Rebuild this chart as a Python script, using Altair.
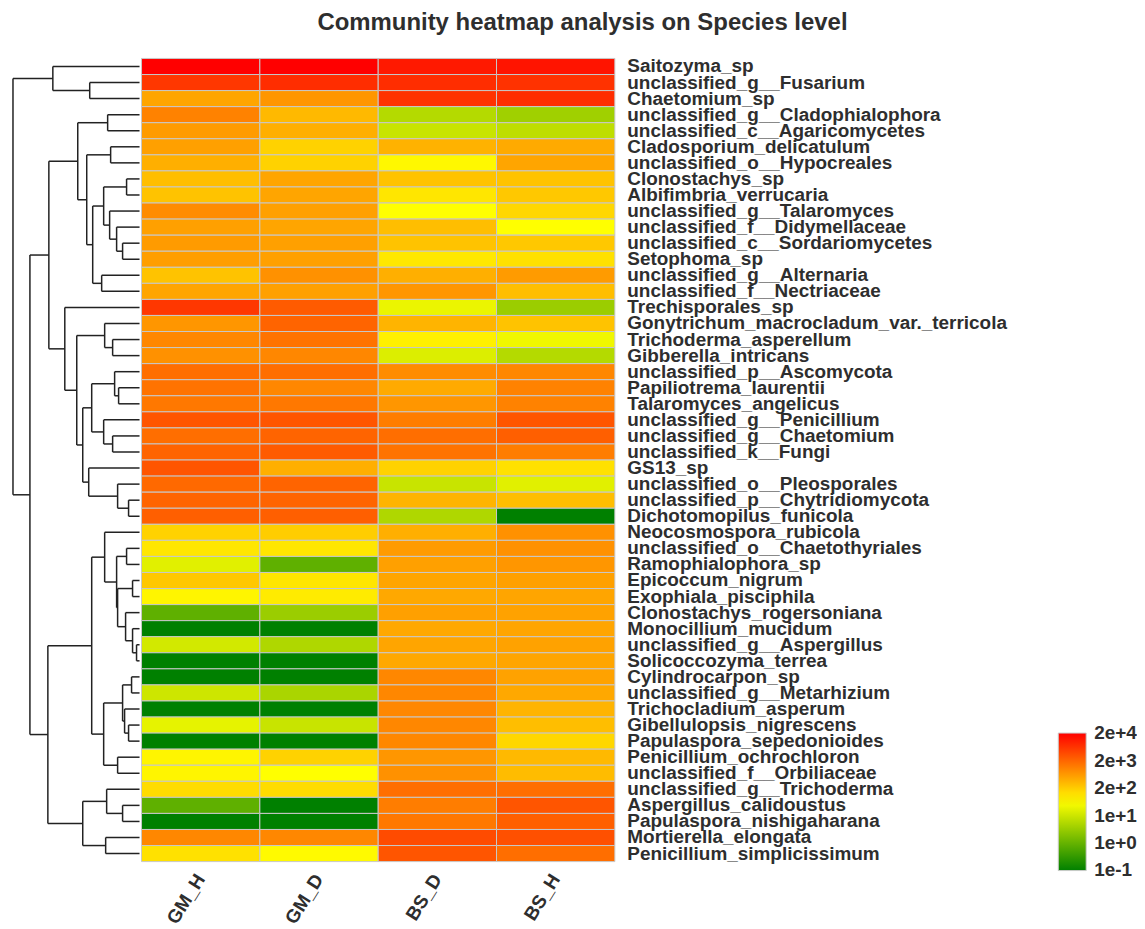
import altair as alt
import pandas as pd

# ---------------- data ----------------
species = [
    "Saitozyma_sp", "unclassified_g__Fusarium", "Chaetomium_sp",
    "unclassified_g__Cladophialophora", "unclassified_c__Agaricomycetes",
    "Cladosporium_delicatulum", "unclassified_o__Hypocreales", "Clonostachys_sp",
    "Albifimbria_verrucaria", "unclassified_g__Talaromyces",
    "unclassified_f__Didymellaceae", "unclassified_c__Sordariomycetes", "Setophoma_sp",
    "unclassified_g__Alternaria", "unclassified_f__Nectriaceae", "Trechisporales_sp",
    "Gonytrichum_macrocladum_var._terricola", "Trichoderma_asperellum",
    "Gibberella_intricans", "unclassified_p__Ascomycota", "Papiliotrema_laurentii",
    "Talaromyces_angelicus", "unclassified_g__Penicillium", "unclassified_g__Chaetomium",
    "unclassified_k__Fungi", "GS13_sp", "unclassified_o__Pleosporales",
    "unclassified_p__Chytridiomycota", "Dichotomopilus_funicola", "Neocosmospora_rubicola",
    "unclassified_o__Chaetothyriales", "Ramophialophora_sp", "Epicoccum_nigrum",
    "Exophiala_pisciphila", "Clonostachys_rogersoniana", "Monocillium_mucidum",
    "unclassified_g__Aspergillus", "Solicoccozyma_terrea", "Cylindrocarpon_sp",
    "unclassified_g__Metarhizium", "Trichocladium_asperum", "Gibellulopsis_nigrescens",
    "Papulaspora_sepedonioides", "Penicillium_ochrochloron", "unclassified_f__Orbiliaceae",
    "unclassified_g__Trichoderma", "Aspergillus_calidoustus", "Papulaspora_nishigaharana",
    "Mortierella_elongata", "Penicillium_simplicissimum",
]
samples = ["GM_H", "GM_D", "BS_D", "BS_H"]

# log10 abundance per sample (row order as above)
lg_GM_H = [4.3, 3.73, 2.59, 2.95, 2.69, 2.64, 2.48, 2.33, 2.27, 2.85,
           2.64, 2.69, 2.66, 2.27, 2.59, 3.73, 2.74, 2.9, 2.79, 3.16,
           3.11, 3.05, 3.42, 3.16, 3.26, 3.42, 3.21, 3.26, 3.31, 2.12,
           1.91, 1.34, 2.22, 1.75, -0.01, -1, 1.18, -1, -1, 1.13,
           -1, 1.39, -1, 1.75, 1.75, 2.01, -0.01, -1, 2.9, 1.96]
lg_GM_D = [4.3, 3.83, 2.74, 2.38, 2.48, 2.12, 2.12, 2.59, 2.59, 2.64,
           2.59, 2.64, 2.64, 2.79, 2.64, 3.36, 3.26, 3.11, 2.9, 3.16,
           2.9, 3.05, 3.42, 3.26, 3.36, 2.48, 3.26, 3.26, 3.31, 2.17,
           1.91, -0.01, 1.91, 1.86, 0.61, -1, 0.82, -1, -1, 0.77,
           -1, 1.08, -1, 2.12, 1.65, 2.01, -1, -1, 2.9, 1.70]
lg_BS_D = [4.04, 3.83, 3.78, 0.87, 1.08, 2.45, 1.72, 2.27, 1.91, 1.65,
           2.33, 2.27, 1.89, 2.48, 2.74, 1.44, 2.43, 1.81, 1.29, 2.85,
           2.53, 2.74, 3.0, 3.16, 3.11, 2.12, 1.08, 2.43, 0.82, 2.48,
           2.69, 2.64, 2.59, 2.55, 2.64, 2.55, 2.59, 2.55, 2.9, 2.9,
           2.9, 2.9, 2.9, 2.74, 2.79, 3.16, 3.0, 3.05, 3.52, 3.42]
lg_BS_H = [4.09, 3.78, 3.83, 0.66, 0.97, 2.53, 2.59, 2.27, 2.22, 2.07,
           1.65, 2.22, 1.96, 2.69, 2.33, 0.61, 2.27, 1.49, 0.87, 2.9,
           2.95, 2.95, 3.42, 3.31, 3.0, 1.96, 1.34, 2.33, -1, 2.79,
           2.79, 2.74, 2.64, 2.59, 2.62, 2.59, 2.62, 2.59, 2.62, 2.55,
           2.43, 2.33, 2.07, 2.38, 2.35, 3.16, 3.42, 3.31, 3.47, 3.16]

# row dendrogram (linkage: leaves 0..49, merged nodes numbered from 50)
merge_left = [1, 0, 3, 5, 7, 11, 10, 9, 54, 13, 58, 53, 52,
              17, 16, 20, 19, 23, 22, 66, 27, 26, 25, 69, 64, 15, 62,
              30, 32, 36, 35, 34, 78, 77, 29,
              38, 41, 40, 85, 43, 88, 84, 46, 45, 48, 93, 91, 76, 51]
merge_right = [2, 50, 4, 6, 8, 12, 55, 56, 57, 14, 59, 60, 61,
               18, 63, 21, 65, 24, 67, 68, 28, 70, 71, 72, 73, 74, 75,
               31, 33, 37, 79, 80, 81, 82, 83,
               39, 42, 86, 87, 44, 89, 90, 47, 92, 49, 94, 95, 96, 97]
merge_height = [50, 87, 32, 29, 13, 17, 23, 30, 36, 38, 47, 53, 62,
                27, 35, 21, 25, 27, 36, 48, 11, 22, 51, 57, 63, 75, 91,
                13, 7, 3, 7, 14, 22, 23, 35,
                8, 11, 15, 17, 22, 36, 48, 17, 33, 34, 57, 92, 110, 127]

legend_values = [-1, 0.06, 1.12, 2.18, 3.24, 4.3]
legend_labels = ["1e-1", "1e+0", "1e+1", "2e+2", "2e+3", "2e+4"]

# ---------------- tables ----------------
cols = {"GM_H": lg_GM_H, "GM_D": lg_GM_D, "BS_D": lg_BS_D, "BS_H": lg_BS_H}
rows = []
for s in samples:
    for sp, v in zip(species, cols[s]):
        rows.append({"sample": s, "species": sp, "lg": v})
heat_df = pd.DataFrame(rows)

n = len(species)
pos = {i: i + 0.5 for i in range(n)}
hgt = {i: 0.0 for i in range(n)}
segs = []
for k, (a, b, h) in enumerate(zip(merge_left, merge_right, merge_height)):
    node = n + k
    for c in (a, b):
        segs.append({"x1": hgt[c], "x2": h, "y1": pos[c], "y2": pos[c]})
    segs.append({"x1": h, "x2": h, "y1": pos[a], "y2": pos[b]})
    pos[node] = (pos[a] + pos[b]) / 2
    hgt[node] = h
seg_df = pd.DataFrame(segs)

mids = [(a + b) / 2 for a, b in zip(legend_values[:-1], legend_values[1:])]
label_expr = "".join(f"datum.value < {m:.3f} ? '{lab}' : " for m, lab in zip(mids, legend_labels[:-1])) + f"'{legend_labels[-1]}'"

FONT = "Liberation Sans"
TXT = "#2e2e2e"
H = 806

dendro = alt.Chart(seg_df).mark_rule(color="#222222", strokeWidth=1.5).encode(
    x=alt.X("x1:Q", scale=alt.Scale(domain=[0, 132], reverse=True, nice=False, zero=False), axis=None),
    x2="x2:Q",
    y=alt.Y("y1:Q", scale=alt.Scale(domain=[0, n], reverse=True, nice=False, zero=False), axis=None),
    y2="y2:Q",
).properties(width=132, height=H)

heat = alt.Chart(heat_df).mark_rect(stroke="#c8c8c8", strokeWidth=1).encode(
    x=alt.X("sample:N", sort=samples,
            axis=alt.Axis(title=None, orient="bottom", labelAngle=-58, ticks=False, domain=False,
                          labelFontSize=19, labelFontWeight="bold", labelColor=TXT, labelFont=FONT,
                          labelPadding=14)),
    y=alt.Y("species:N", sort=species,
            axis=alt.Axis(title=None, orient="right", ticks=False, domain=False,
                          labelFontSize=19, labelFontWeight="bold", labelColor=TXT, labelFont=FONT,
                          labelPadding=12, labelLimit=600)),
    color=alt.Color("lg:Q",
                    scale=alt.Scale(domain=[-1.003, 4.303], range=["#008000", "#ffff00", "#ff0000"],
                                    interpolate="rgb", nice=False, zero=False),
                    legend=alt.Legend(title=None, orient="none", legendX=1054, legendY=677,
                                      direction="vertical", gradientLength=138, gradientThickness=28,
                                      gradientStrokeColor="#cccccc", gradientStrokeWidth=1,
                                      values=legend_values, labelExpr=label_expr, labelOverlap=False,
                                      labelFontSize=19, labelFontWeight="bold", labelColor=TXT,
                                      labelFont=FONT, labelOffset=8)),
).properties(width=475, height=H)

chart = alt.hconcat(dendro, heat, spacing=0).properties(
    title=alt.TitleParams("Community heatmap analysis on Species level", fontSize=24,
                          fontWeight="bold", color=TXT, font=FONT, anchor="middle",
                          frame="bounds", offset=22, dx=10),
    padding={"left": 0, "top": 1, "right": 0, "bottom": 0},
).configure_view(stroke=None)

chart.save("out.html", embed_options={"renderer": "svg", "actions": False})
